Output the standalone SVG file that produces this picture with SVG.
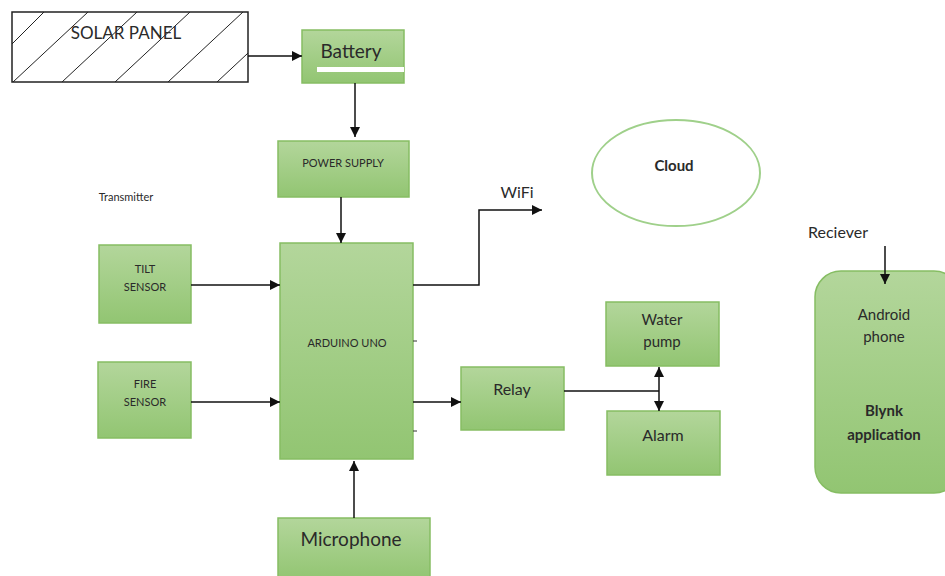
<svg xmlns="http://www.w3.org/2000/svg" width="945" height="576" viewBox="0 0 945 576">
<defs>
<linearGradient id="g" x1="0" y1="0" x2="0" y2="1">
<stop offset="0" stop-color="#b3d69b"/>
<stop offset="1" stop-color="#92c572"/>
</linearGradient>
<linearGradient id="g2" x1="0" y1="0" x2="1" y2="1">
<stop offset="0" stop-color="#a6d08a"/>
<stop offset="0.6" stop-color="#d6ebc8"/>
<stop offset="1" stop-color="#a6d08a"/>
</linearGradient>
<marker id="ah" viewBox="0 0 10 10" refX="10" refY="5" markerWidth="10" markerHeight="10" markerUnits="userSpaceOnUse" orient="auto">
<path d="M0,0 L10,5 L0,10 z" fill="#111"/>
</marker>
<marker id="ahs" viewBox="0 0 10 10" refX="0" refY="5" markerWidth="10" markerHeight="10" markerUnits="userSpaceOnUse" orient="auto">
<path d="M10,0 L0,5 L10,10 z" fill="#111"/>
</marker>
<clipPath id="sp"><rect x="12" y="12" width="236" height="70"/></clipPath>
</defs>
<style>
.box{fill:url(#g);stroke:#86bd63;stroke-width:1.5}
.t{font-family:Lato,"Open Sans","Liberation Sans",sans-serif;fill:#2a2a2a;text-anchor:middle}
.c{fill:none;stroke:#111;stroke-width:1.5}
</style>
<rect width="945" height="576" fill="#fff"/>

<g id="solar">
<rect x="12" y="12" width="236" height="70" fill="#fff"/>
<g clip-path="url(#sp)" stroke="#222" stroke-width="1">
<line x1="12" y1="44" x2="44" y2="12"/>
<line x1="13" y1="82" x2="88" y2="12"/>
<line x1="62" y1="82" x2="137" y2="12"/>
<line x1="115" y1="82" x2="190" y2="12"/>
<line x1="168" y1="82" x2="243" y2="12"/>
<line x1="217" y1="82" x2="292" y2="12"/>
</g>
<rect x="12" y="12" width="236" height="70" fill="none" stroke="#222" stroke-width="1.5"/>
<text class="t" x="126" y="39" font-size="17" fill="#222">SOLAR PANEL</text>
</g>

<g id="battery">
<rect class="box" x="302" y="30" width="102" height="53" fill="url(#g2)"/>
<rect x="317" y="67" width="87" height="5" fill="#fff"/>
<text class="t" x="351" y="58" font-size="19">Battery</text>
</g>

<g id="power">
<rect class="box" x="278" y="141" width="131" height="56"/>
<text class="t" x="343" y="167" font-size="11">POWER SUPPLY</text>
</g>

<text class="t" x="126" y="201" font-size="11" fill="#444">Transmitter</text>

<g id="tilt">
<rect class="box" x="99" y="245" width="92" height="78"/>
<text class="t" x="145" y="273" font-size="11">TILT</text>
<text class="t" x="145" y="291" font-size="11">SENSOR</text>
</g>

<g id="fire">
<rect class="box" x="98" y="362" width="93" height="76"/>
<text class="t" x="145" y="388" font-size="11">FIRE</text>
<text class="t" x="145" y="406" font-size="11">SENSOR</text>
</g>

<g id="arduino">
<rect class="box" x="280" y="243" width="133" height="216"/>
<text class="t" x="347" y="347" font-size="11">ARDUINO UNO</text>
<line x1="413" y1="341" x2="417" y2="341" stroke="#333" stroke-width="1"/>
<line x1="413" y1="431" x2="417" y2="431" stroke="#333" stroke-width="1"/>
</g>

<g id="relay">
<rect class="box" x="461" y="367" width="103" height="63"/>
<text class="t" x="512" y="395" font-size="16">Relay</text>
</g>

<g id="pump">
<rect class="box" x="606" y="302" width="113" height="64"/>
<text class="t" x="662" y="325" font-size="15">Water</text>
<text class="t" x="662" y="347" font-size="15">pump</text>
</g>

<g id="alarm">
<rect class="box" x="607" y="411" width="113" height="64"/>
<text class="t" x="663" y="441" font-size="16">Alarm</text>
</g>

<g id="cloud">
<ellipse cx="676" cy="173" rx="84" ry="53" fill="#fff" stroke="#9fd08a" stroke-width="2"/>
<text class="t" x="674" y="171" font-size="15" font-weight="bold" fill="#222">Cloud</text>
</g>

<text class="t" x="517" y="198" font-size="16" fill="#333">WiFi</text>
<text class="t" x="838" y="238" font-size="16" fill="#444">Reciever</text>

<g id="android">
<rect class="box" x="815" y="271" width="145" height="222" rx="26"/>
<text class="t" x="884" y="320" font-size="15">Android</text>
<text class="t" x="884" y="342" font-size="15">phone</text>
<text class="t" x="884" y="416" font-size="15" font-weight="bold" fill="#222">Blynk</text>
<text class="t" x="884" y="440" font-size="15" font-weight="bold" fill="#222">application</text>
</g>

<g id="mic">
<rect class="box" x="278" y="518" width="152" height="62" fill="url(#g2)"/>
<text class="t" x="351" y="546" font-size="19">Microphone</text>
</g>

<g id="connectors">
<line class="c" x1="248" y1="56" x2="302" y2="56" marker-end="url(#ah)"/>
<line class="c" x1="355" y1="83" x2="355" y2="137" marker-end="url(#ah)"/>
<line class="c" x1="341" y1="197" x2="341" y2="243" marker-end="url(#ah)"/>
<line class="c" x1="191" y1="285" x2="280" y2="285" marker-end="url(#ah)"/>
<line class="c" x1="191" y1="402" x2="280" y2="402" marker-end="url(#ah)"/>
<polyline class="c" points="413,285 479,285 479,210 542,210" marker-end="url(#ah)"/>
<line class="c" x1="413" y1="402" x2="461" y2="402" marker-end="url(#ah)"/>
<line class="c" x1="564" y1="391" x2="659" y2="391"/>
<line class="c" x1="659" y1="367" x2="659" y2="411" marker-start="url(#ahs)" marker-end="url(#ah)"/>
<line class="c" x1="885" y1="246" x2="885" y2="284" marker-end="url(#ah)"/>
<line class="c" x1="354" y1="518" x2="354" y2="461" marker-end="url(#ah)"/>
</g>
</svg>
